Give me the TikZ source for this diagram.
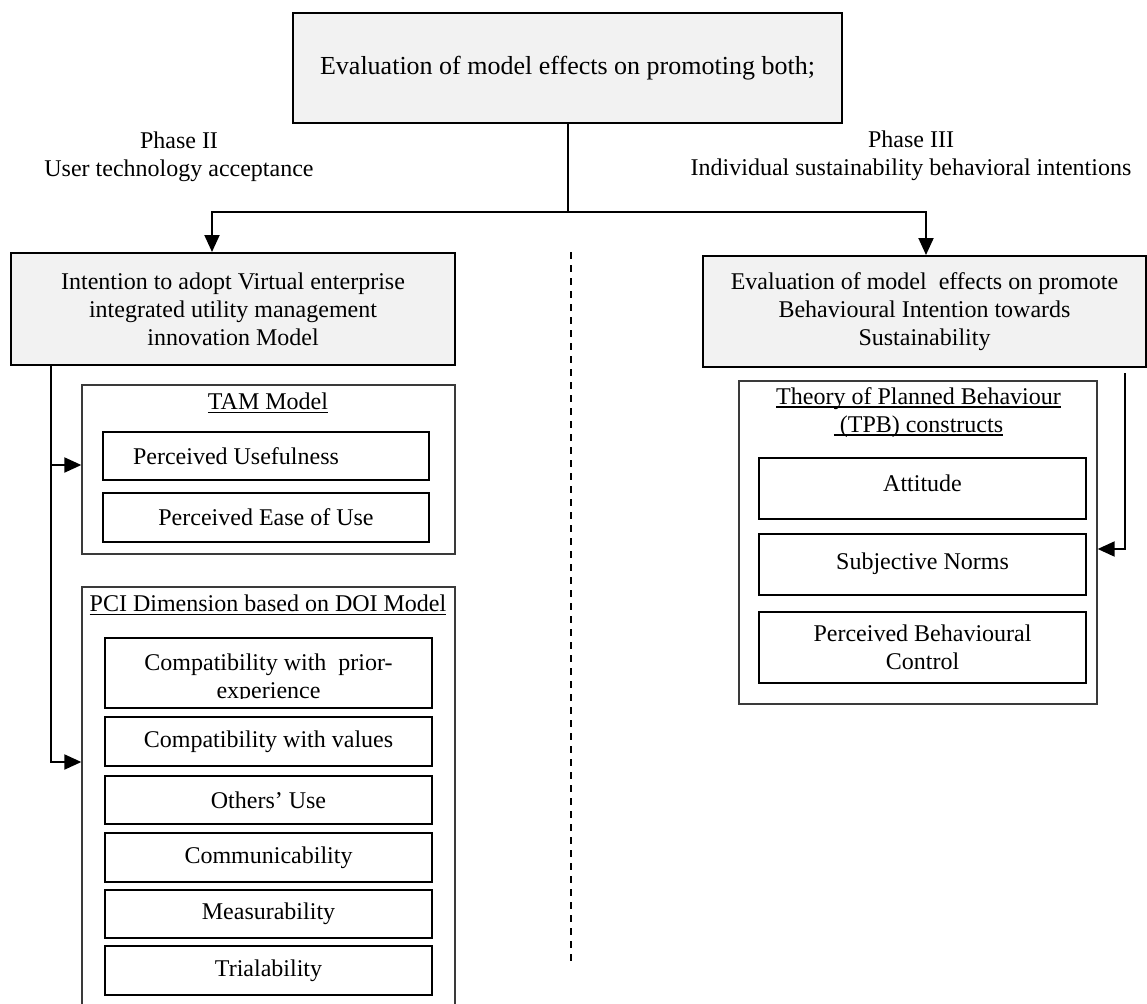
\documentclass[tikz,border=0pt]{standalone}
\usepackage{fontspec}
\setmainfont{Liberation Serif}
\usetikzlibrary{arrows.meta}
\definecolor{boxgray}{HTML}{F2F2F2}
\definecolor{framegray}{HTML}{3A3A3A}
% underline with a heavier rule than \underline gives at this scale
\newcommand\ulbar[1]{\setbox0\hbox{#1}\rlap{\rule[-3.5pt]{\wd0}{1.5pt}}\box0}

\begin{document}
\begin{tikzpicture}[x=1pt,y=-1pt,
  every node/.style={font=\fontsize{24}{28}\selectfont, inner sep=0pt},
  headbox/.style={draw=black, line width=2pt, fill=boxgray, align=center},
  group/.style={draw=framegray, line width=1.3pt},
  itembox/.style={draw=black, line width=2pt, align=center},
  tamitem/.style={itembox, minimum width=326pt},
  pciitem/.style={itembox, minimum width=327pt},
  tpbitem/.style={itembox, minimum width=327pt},
  plain/.style={align=center},
  link/.style={line width=2pt, black},
  arrowline/.style={link, -{Triangle[length=17pt,width=15pt]}},
  separator/.style={line width=2pt, black, dash pattern=on 7pt off 6pt}
]
\clip (0,0) rectangle (1147,1003);

% top goal box
\node[headbox, minimum width=549pt, minimum height=110pt,
      font=\fontsize{26}{30}\selectfont] (goal) at (567.5,68)
  {Evaluation of model effects on promoting both;};

% phase captions
\node[plain] (ph2) at (179,156.5) {Phase II\\User technology acceptance};
\node[plain] (ph3) at (911,156) {Phase III\\Individual sustainability behavioral intentions};

% second-level boxes
\node[headbox, minimum width=444pt, minimum height=112pt] (adopt) at (233,309)
  {Intention to adopt Virtual enterprise\\integrated utility management\\innovation Model};
\node[headbox, minimum width=443pt, minimum height=111pt] (sust) at (924.5,311.5)
  {Evaluation of model\ \ effects on promote\\Behavioural Intention towards\\Sustainability};

% TAM group
\node[group, minimum width=373pt, minimum height=169pt] (tam) at (268.5,469.5) {};
\node[plain] (tamtitle) at (268,403) {\ulbar{TAM Model}};
\node[tamitem, minimum height=48pt] (pu) at (266,456) {Perceived Usefulness\hspace*{60pt}};
\node[tamitem, minimum height=49pt] (peou) at (266,517.5) {Perceived Ease of Use};

% PCI / DOI group (runs past the lower edge)
\node[group, minimum width=373pt, minimum height=425pt] (pci) at (268.5,799.5) {};
\node[plain] (pcititle) at (268,605) {\ulbar{PCI Dimension based on DOI Model}};
\node[pciitem, minimum height=70pt] (prior) at (268.5,673) {};
\begin{scope}
  \clip (105,638) rectangle (432,698);
  \node[plain] (priortext) at (268.5,679) {Compatibility with\ \ prior-\\experience};
\end{scope}
\node[pciitem, minimum height=49pt] (values) at (268.5,741.5) {Compatibility with values};
\node[pciitem, minimum height=48pt] (others) at (268.5,800) {Others’ Use};
\node[pciitem, minimum height=49pt] (comm) at (268.5,857.5) {Communicability};
\node[pciitem, minimum height=48pt] (meas) at (268.5,914) {Measurability};
\node[pciitem, minimum height=49pt] (trial) at (268.5,970.5) {Trialability};

% TPB group
\node[group, minimum width=358pt, minimum height=323pt] (tpb) at (918,542.5) {};
\node[plain] (tpbtitle) at (918.5,412.5)
  {\ulbar{Theory of Planned Behaviour}\\\ulbar{\ (TPB) constructs}};
\node[tpbitem, minimum height=61pt] (att) at (922.5,488.5) {\raisebox{10pt}{Attitude}};
\node[tpbitem, minimum height=61pt] (norms) at (922.5,564.5) {\raisebox{6pt}{Subjective Norms}};
\node[tpbitem, minimum height=71pt] (pbc) at (922.5,647.5) {Perceived Behavioural\\Control};

% connectors
\draw[link] (goal.south) -- (goal.south |- 0,212) coordinate (fork);
\draw[arrowline] (fork) -| ([xshift=-21pt]adopt.north);
\draw[arrowline] (fork) -| ([xshift=1.5pt]sust.north);
\draw[arrowline] ([xshift=41pt]adopt.south west) |- ([yshift=4.5pt]tam.west);
\draw[arrowline] ([xshift=41pt]adopt.south west) |- ([yshift=37.5pt]pci.west);
\draw[arrowline] ([xshift=-22pt,yshift=-5pt]sust.south east) |- ([yshift=-6.5pt]tpb.east);

% phase separator
\coordinate (septop) at (571,252);
\coordinate (sepbot) at (571,965);
\draw[separator] (septop) -- (sepbot);
\end{tikzpicture}
\end{document}
